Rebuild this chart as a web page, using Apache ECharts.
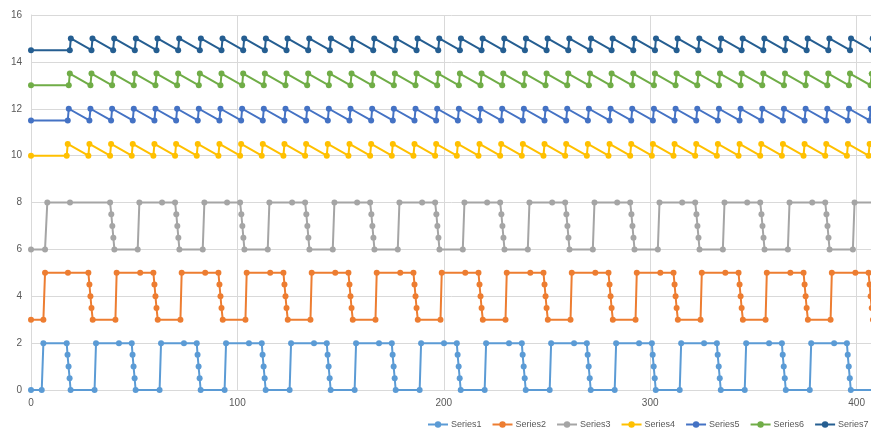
<!DOCTYPE html>
<html>
<head>
<meta charset="utf-8">
<script src="https://cdn.jsdelivr.net/npm/echarts@6/dist/echarts.min.js"></script>
<style>
  html, body { margin: 0; padding: 0; background: #ffffff; }
  #chart { width: 871px; height: 429px; }
</style>
</head>
<body>
<div id="chart"></div>
<script>
// ---- Data -------------------------------------------------------------
const seriesNames = ['Series1', 'Series2', 'Series3', 'Series4', 'Series5', 'Series6', 'Series7'];

// Square-wave series: x positions and the matching y values.
const series1X = [0, 5.2, 6, 17.3, 17.7, 18.2, 18.7, 19.2,
  30.8, 31.5, 42.6, 48.8, 49.2, 49.7, 50.2, 50.7,
  62.3, 63, 74.1, 80.3, 80.7, 81.2, 81.7, 82.2,
  93.8, 94.5, 105.6, 111.8, 112.2, 112.7, 113.2, 113.7,
  125.3, 126, 137.1, 143.3, 143.7, 144.2, 144.7, 145.2,
  156.8, 157.5, 168.6, 174.8, 175.2, 175.7, 176.2, 176.7,
  188.3, 189, 200.1, 206.3, 206.7, 207.2, 207.7, 208.2,
  219.8, 220.5, 231.6, 237.8, 238.2, 238.7, 239.2, 239.7,
  251.3, 252, 263.1, 269.3, 269.7, 270.2, 270.7, 271.2,
  282.8, 283.5, 294.6, 300.8, 301.2, 301.7, 302.2, 302.7,
  314.3, 315, 326.1, 332.3, 332.7, 333.2, 333.7, 334.2,
  345.8, 346.5, 357.6, 363.8, 364.2, 364.7, 365.2, 365.7,
  377.3, 378, 389.1, 395.3, 395.7, 396.2, 396.7, 397.2,
  408.8, 409.5, 420.6];
const series1Y = [0, 0, 2, 2, 1.5, 1, 0.5, 0,
  0, 2, 2, 2, 1.5, 1, 0.5, 0,
  0, 2, 2, 2, 1.5, 1, 0.5, 0,
  0, 2, 2, 2, 1.5, 1, 0.5, 0,
  0, 2, 2, 2, 1.5, 1, 0.5, 0,
  0, 2, 2, 2, 1.5, 1, 0.5, 0,
  0, 2, 2, 2, 1.5, 1, 0.5, 0,
  0, 2, 2, 2, 1.5, 1, 0.5, 0,
  0, 2, 2, 2, 1.5, 1, 0.5, 0,
  0, 2, 2, 2, 1.5, 1, 0.5, 0,
  0, 2, 2, 2, 1.5, 1, 0.5, 0,
  0, 2, 2, 2, 1.5, 1, 0.5, 0,
  0, 2, 2, 2, 1.5, 1, 0.5, 0,
  0, 2, 2];

const series2X = [0, 6, 6.8, 17.9, 27.8, 28.3, 28.8, 29.3, 29.9,
  40.9, 41.5, 52.9, 59.3, 59.8, 60.3, 60.8, 61.4,
  72.4, 73, 84.4, 90.8, 91.3, 91.8, 92.3, 92.9,
  103.9, 104.5, 115.9, 122.3, 122.8, 123.3, 123.8, 124.4,
  135.4, 136, 147.4, 153.8, 154.3, 154.8, 155.3, 155.9,
  166.9, 167.5, 178.9, 185.3, 185.8, 186.3, 186.8, 187.4,
  198.4, 199, 210.4, 216.8, 217.3, 217.8, 218.3, 218.9,
  229.9, 230.5, 241.9, 248.3, 248.8, 249.3, 249.8, 250.4,
  261.4, 262, 273.4, 279.8, 280.3, 280.8, 281.3, 281.9,
  292.9, 293.5, 304.9, 311.3, 311.8, 312.3, 312.8, 313.4,
  324.4, 325, 336.4, 342.8, 343.3, 343.8, 344.3, 344.9,
  355.9, 356.5, 367.9, 374.3, 374.8, 375.3, 375.8, 376.4,
  387.4, 388, 399.4, 405.8, 406.3, 406.8, 407.3, 407.9,
  418.9, 419.5];
const series2Y = [3, 3, 5, 5, 5, 4.5, 4, 3.5, 3,
  3, 5, 5, 5, 4.5, 4, 3.5, 3,
  3, 5, 5, 5, 4.5, 4, 3.5, 3,
  3, 5, 5, 5, 4.5, 4, 3.5, 3,
  3, 5, 5, 5, 4.5, 4, 3.5, 3,
  3, 5, 5, 5, 4.5, 4, 3.5, 3,
  3, 5, 5, 5, 4.5, 4, 3.5, 3,
  3, 5, 5, 5, 4.5, 4, 3.5, 3,
  3, 5, 5, 5, 4.5, 4, 3.5, 3,
  3, 5, 5, 5, 4.5, 4, 3.5, 3,
  3, 5, 5, 5, 4.5, 4, 3.5, 3,
  3, 5, 5, 5, 4.5, 4, 3.5, 3,
  3, 5, 5, 5, 4.5, 4, 3.5, 3,
  3, 5];

const series3X = [0, 6.8, 7.9, 18.9, 38.3, 38.9, 39.4, 39.9, 40.4,
  51.7, 52.5, 63.5, 69.8, 70.4, 70.9, 71.4, 71.9,
  83.2, 84, 95, 101.3, 101.9, 102.4, 102.9, 103.4,
  114.7, 115.5, 126.5, 132.8, 133.4, 133.9, 134.4, 134.9,
  146.2, 147, 158, 164.3, 164.9, 165.4, 165.9, 166.4,
  177.7, 178.5, 189.5, 195.8, 196.4, 196.9, 197.4, 197.9,
  209.2, 210, 221, 227.3, 227.9, 228.4, 228.9, 229.4,
  240.7, 241.5, 252.5, 258.8, 259.4, 259.9, 260.4, 260.9,
  272.2, 273, 284, 290.3, 290.9, 291.4, 291.9, 292.4,
  303.7, 304.5, 315.5, 321.8, 322.4, 322.9, 323.4, 323.9,
  335.2, 336, 347, 353.3, 353.9, 354.4, 354.9, 355.4,
  366.7, 367.5, 378.5, 384.8, 385.4, 385.9, 386.4, 386.9,
  398.2, 399, 410];
const series3Y = [6, 6, 8, 8, 8, 7.5, 7, 6.5, 6,
  6, 8, 8, 8, 7.5, 7, 6.5, 6,
  6, 8, 8, 8, 7.5, 7, 6.5, 6,
  6, 8, 8, 8, 7.5, 7, 6.5, 6,
  6, 8, 8, 8, 7.5, 7, 6.5, 6,
  6, 8, 8, 8, 7.5, 7, 6.5, 6,
  6, 8, 8, 8, 7.5, 7, 6.5, 6,
  6, 8, 8, 8, 7.5, 7, 6.5, 6,
  6, 8, 8, 8, 7.5, 7, 6.5, 6,
  6, 8, 8, 8, 7.5, 7, 6.5, 6,
  6, 8, 8, 8, 7.5, 7, 6.5, 6,
  6, 8, 8, 8, 7.5, 7, 6.5, 6,
  6, 8, 8];

// Sawtooth series: each tooth falls back to its low level at one time and
// jumps to its high level at the next listed time.
const edgeA = [17.3, 27.8, 38.3, 48.8, 59.3, 69.8, 80.3, 90.8, 101.3, 111.8, 122.3, 132.8, 143.3, 153.8, 164.3, 174.8, 185.3, 195.8, 206.3, 216.8, 227.3, 237.8, 248.3, 258.8, 269.3, 279.8, 290.3, 300.8, 311.3, 321.8, 332.3, 342.8, 353.3, 363.8, 374.3, 384.8, 395.3, 405.8, 416.3];
const edgeB = [17.8, 28.3, 38.8, 49.3, 59.8, 70.3, 80.8, 91.3, 101.8, 112.3, 122.8, 133.3, 143.8, 154.3, 164.8, 175.3, 185.8, 196.3, 206.8, 217.3, 227.8, 238.3, 248.8, 259.3, 269.8, 280.3, 290.8, 301.3, 311.8, 322.3, 332.8, 343.3, 353.8, 364.3, 374.8, 385.3, 395.8, 406.3, 416.8];
const edgeC = [18.3, 28.8, 39.3, 49.8, 60.3, 70.8, 81.3, 91.8, 102.3, 112.8, 123.3, 133.8, 144.3, 154.8, 165.3, 175.8, 186.3, 196.8, 207.3, 217.8, 228.3, 238.8, 249.3, 259.8, 270.3, 280.8, 291.3, 301.8, 312.3, 322.8, 333.3, 343.8, 354.3, 364.8, 375.3, 385.8, 396.3, 406.8, 417.3];
const edgeD = [18.8, 29.3, 39.8, 50.3, 60.8, 71.3, 81.8, 92.3, 102.8, 113.3, 123.8, 134.3, 144.8, 155.3, 165.8, 176.3, 186.8, 197.3, 207.8, 218.3, 228.8, 239.3, 249.8, 260.3, 270.8, 281.3, 291.8, 302.3, 312.8, 323.3, 333.8, 344.3, 354.8, 365.3, 375.8, 386.3, 396.8, 407.3, 417.8];
const edgeE = [19.3, 29.8, 40.3, 50.8, 61.3, 71.8, 82.3, 92.8, 103.3, 113.8, 124.3, 134.8, 145.3, 155.8, 166.3, 176.8, 187.3, 197.8, 208.3, 218.8, 229.3, 239.8, 250.3, 260.8, 271.3, 281.8, 292.3, 302.8, 313.3, 323.8, 334.3, 344.8, 355.3, 365.8, 376.3, 386.8, 397.3, 407.8, 418.3];

const series4Levels = [10, 10.5];
const series5Levels = [11.5, 12];
const series6Levels = [13, 13.5];
const series7Levels = [14.5, 15];

const xTicks = [0, 100, 200, 300, 400];
const yTicks = [0, 2, 4, 6, 8, 10, 12, 14, 16];

// ---- Helpers ----------------------------------------------------------
function zipXY(xs, ys) {
  return xs.map((x, i) => [x, ys[i]]);
}
function sawtooth(lowTimes, highTimes, levels) {
  const pts = [[0, levels[0]]];
  for (let i = 0; i < lowTimes.length; i++) {
    pts.push([lowTimes[i], levels[0]]);
    pts.push([highTimes[i], levels[1]]);
  }
  return pts;
}

const seriesData = [
  zipXY(series1X, series1Y),
  zipXY(series2X, series2Y),
  zipXY(series3X, series3Y),
  sawtooth(edgeA, edgeB, series4Levels),
  sawtooth(edgeB, edgeC, series5Levels),
  sawtooth(edgeC, edgeD, series6Levels),
  sawtooth(edgeD, edgeE, series7Levels)
];

const colors = ['#5B9BD5', '#ED7D31', '#A5A5A5', '#FFC000', '#4472C4', '#70AD47', '#255E91'];

// ---- Chart ------------------------------------------------------------
const chart = echarts.init(document.getElementById('chart'), null, { renderer: 'canvas' });

// The plot area runs on past the right edge of the page.
const PX_PER_UNIT = 2.064;
const X_MAX = 500;

chart.setOption({
  animation: false,
  backgroundColor: '#ffffff',
  color: colors,
  textStyle: { fontFamily: 'Liberation Sans, Arial, sans-serif' },
  grid: {
    left: 31,
    top: 15,
    height: 375,
    width: X_MAX * PX_PER_UNIT,
    containLabel: false,
    outerBoundsMode: 'none'
  },
  legend: {
    data: seriesNames,
    left: 427,
    top: 420,
    width: 600,
    padding: 0,
    itemWidth: 20,
    itemHeight: 8,
    itemGap: 10,
    textStyle: { color: '#595959', fontSize: 9, padding: [0, 0, 0, -2] }
  },
  xAxis: {
    type: 'value',
    min: 0,
    max: X_MAX,
    interval: 100,
    axisLine: { show: true, lineStyle: { color: '#D9D9D9', width: 1 } },
    axisTick: { show: false },
    splitLine: { show: true, lineStyle: { color: '#D9D9D9', width: 1 } },
    axisLabel: {
      color: '#595959',
      fontSize: 10,
      margin: 8,
      formatter: v => (xTicks.indexOf(v) >= 0 ? String(v) : '')
    }
  },
  yAxis: {
    type: 'value',
    min: 0,
    max: 16,
    interval: 2,
    axisLine: { show: true, lineStyle: { color: '#D9D9D9', width: 1 } },
    axisTick: { show: false },
    splitLine: { show: true, lineStyle: { color: '#D9D9D9', width: 1 } },
    axisLabel: {
      color: '#595959',
      fontSize: 10,
      margin: 9,
      formatter: v => (yTicks.indexOf(v) >= 0 ? String(v) : '')
    }
  },
  series: seriesNames.map((name, i) => ({
    name: name,
    type: 'line',
    data: seriesData[i],
    showSymbol: true,
    showAllSymbol: true,
    symbol: 'circle',
    symbolSize: 6,
    lineStyle: { width: 2, color: colors[i] },
    itemStyle: { color: colors[i], borderWidth: 0 },
    emphasis: { disabled: true },
    z: 2
  }))
});
</script>
</body>
</html>
